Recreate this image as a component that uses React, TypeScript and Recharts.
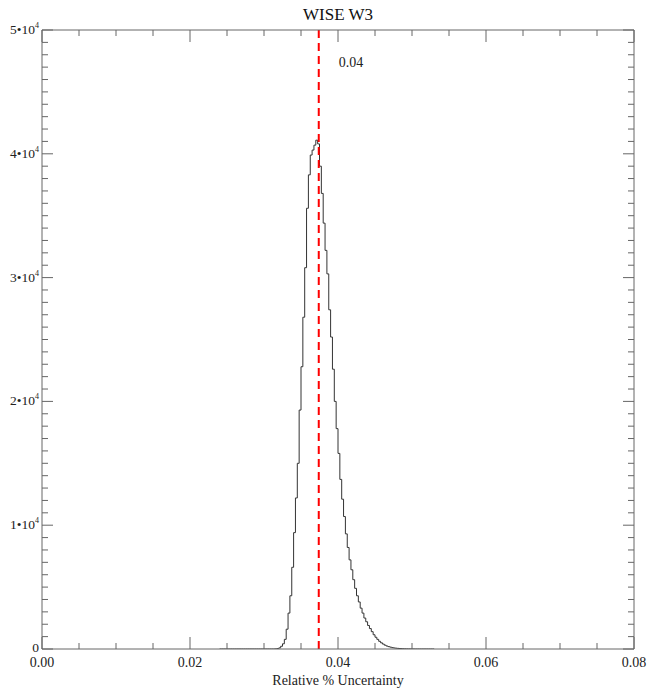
import { Line, LineChart, ReferenceLine, XAxis, YAxis } from "recharts";

// histogram of relative uncertainty, bins start at BIN_START, width BIN_WIDTH
const BIN_START = 0.024;
const BIN_WIDTH = 0.00025;

const COUNTS = [
  0, 0, 0, 0, 0, 0, 0, 0, 0, 0,
  0, 0, 0, 0, 0, 0, 0, 0, 0, 0,
  0, 0, 0, 0, 0, 0, 0, 0, 0, 0,
  10, 30, 90, 220, 420, 780, 1600, 2900, 4300, 6600,
  9400, 12200, 15000, 19300, 22800, 26800, 30800, 35600, 38300, 39900,
  40300, 40700, 41100, 40800, 39000, 36800, 34400, 32200, 30300, 27400,
  25200, 22600, 20000, 17800, 15800, 13700, 12100, 10700, 9300, 8200,
  7200, 6400, 5600, 4900, 4300, 3800, 3300, 2900, 2500, 2200,
  1900, 1650, 1400, 1150, 950, 780, 620, 500, 400, 310,
  240, 190, 150, 110, 85, 65, 50, 38, 28, 20,
  15, 10, 7, 5, 3, 0, 0, 0, 0, 0,
  0, 0, 0, 0, 0, 0, 0,
];

const MEAN = 0.0374;
const MEAN_LABEL = "0.04";

const X_TICKS = [
  0, 0.005, 0.01, 0.015, 0.02, 0.025, 0.03, 0.035, 0.04,
  0.045, 0.05, 0.055, 0.06, 0.065, 0.07, 0.075, 0.08,
];
const X_MAJOR = [0, 0.02, 0.04, 0.06, 0.08];

const Y_TICKS = Array.from({ length: 51 }, (_, i) => i * 1000);
const Y_MAJOR = [0, 10000, 20000, 30000, 40000, 50000];

const FONT = "'Liberation Serif', 'Times New Roman', serif";
const AXIS = "#666";

const dados = COUNTS.map((c, i) => ({ v: BIN_START + i * BIN_WIDTH, c }));

const isMajor = (list: number[], v: number) => list.some((m) => Math.abs(m - v) < 1e-9);

function BottomTick({ x, y, payload }: any) {
  const major = isMajor(X_MAJOR, payload.value);
  return (
    <g>
      <line x1={x} x2={x} y1={y} y2={y - (major ? 12 : 6)} stroke={AXIS} />
      {major && (
        <text x={x} y={y + 18} textAnchor="middle" fontSize={14} fontFamily={FONT} fill="#222">
          {payload.value.toFixed(2)}
        </text>
      )}
    </g>
  );
}

function TopTick({ x, y, payload }: any) {
  const major = isMajor(X_MAJOR, payload.value);
  return <line x1={x} x2={x} y1={y} y2={y + (major ? 12 : 6)} stroke={AXIS} />;
}

function LeftTick({ x, y, payload }: any) {
  const major = isMajor(Y_MAJOR, payload.value);
  const n = Math.round(payload.value / 10000);
  return (
    <g>
      <line x1={x} x2={x + (major ? 11 : 6)} y1={y} y2={y} stroke={AXIS} />
      {major && (
        <text x={x - 3} y={y + (n === 0 ? 3 : 4)} textAnchor="end" fontSize={13.5} fontFamily={FONT} fill="#222">
          {n === 0 ? (
            "0"
          ) : (
            <>
              <tspan>{`${n}•10`}</tspan>
              <tspan dy={-6} fontSize={8}>4</tspan>
            </>
          )}
        </text>
      )}
    </g>
  );
}

function RightTick({ x, y, payload }: any) {
  const major = isMajor(Y_MAJOR, payload.value);
  return <line x1={x} x2={x - (major ? 11 : 6)} y1={y} y2={y} stroke={AXIS} />;
}

function MeanLabel({ viewBox }: any) {
  return (
    <text x={viewBox.x + 20} y={viewBox.y + 37} fontSize={14} fontFamily={FONT} fill="#222">
      {MEAN_LABEL}
    </text>
  );
}

export default function App() {
  return (
    <div style={{ position: "absolute", left: 0, top: 0, width: 654, height: 693, background: "#fff" }}>
      <div
        style={{
          position: "absolute",
          left: 42,
          width: 592,
          top: 5,
          textAlign: "center",
          fontFamily: FONT,
          fontSize: 17,
          color: "#111",
        }}
      >
        WISE W3
      </div>
      <LineChart width={654} height={693} data={dados} margin={{ top: 29, right: 19, bottom: 0, left: 0 }}>
        <XAxis
          xAxisId="b"
          dataKey="v"
          type="number"
          domain={[0, 0.08]}
          ticks={X_TICKS}
          interval={0}
          allowDataOverflow
          height={44}
          tickSize={0}
          tickMargin={0}
          stroke={AXIS}
          tick={BottomTick}
          label={{
            value: "Relative % Uncertainty",
            position: "insideBottom",
            offset: 8,
            fontSize: 14,
            fontFamily: FONT,
            fill: "#222",
          }}
        />
        <XAxis
          xAxisId="t"
          orientation="top"
          dataKey="v"
          type="number"
          domain={[0, 0.08]}
          ticks={X_TICKS}
          interval={0}
          allowDataOverflow
          height={1}
          tickSize={0}
          tickMargin={0}
          stroke={AXIS}
          tick={TopTick}
        />
        <YAxis
          yAxisId="l"
          type="number"
          domain={[0, 50000]}
          ticks={Y_TICKS}
          interval={0}
          allowDataOverflow
          width={42}
          tickSize={0}
          tickMargin={0}
          stroke={AXIS}
          tick={LeftTick}
        />
        <YAxis
          yAxisId="r"
          orientation="right"
          type="number"
          domain={[0, 50000]}
          ticks={Y_TICKS}
          interval={0}
          allowDataOverflow
          width={1}
          tickSize={0}
          tickMargin={0}
          stroke={AXIS}
          tick={RightTick}
        />
        <Line
          xAxisId="b"
          yAxisId="l"
          type="stepAfter"
          dataKey="c"
          stroke="#333"
          strokeWidth={1}
          dot={false}
          activeDot={false}
          isAnimationActive={false}
        />
        <ReferenceLine
          xAxisId="b"
          yAxisId="l"
          x={MEAN}
          stroke="#ff0000"
          strokeWidth={2}
          strokeDasharray="8 5"
          label={MeanLabel}
        />
      </LineChart>
    </div>
  );
}
